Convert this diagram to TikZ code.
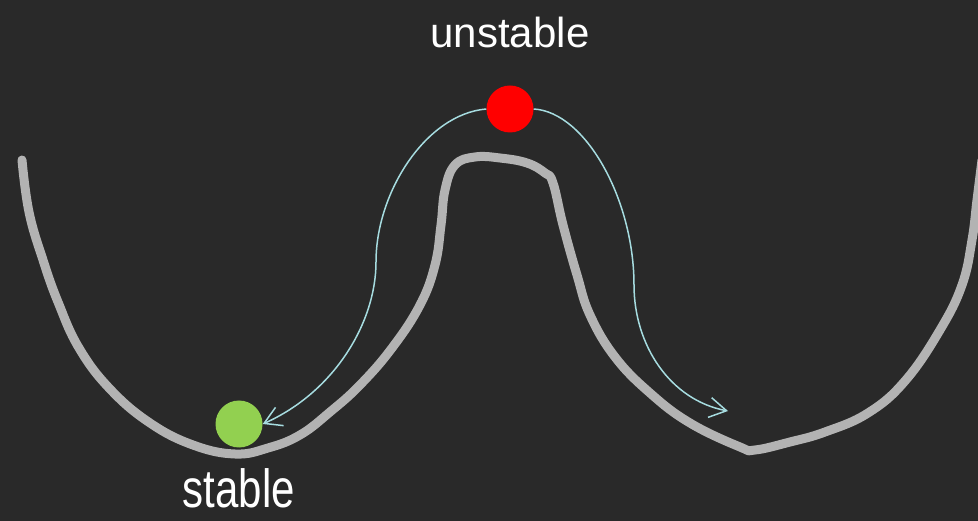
\documentclass[tikz,border=0pt]{standalone}
\usepackage{fontspec}
\setmainfont{Liberation Sans}
\usetikzlibrary{arrows.meta}
\definecolor{bgdark}{HTML}{292929}
\definecolor{trackgray}{HTML}{B3B3B3}
\definecolor{ballred}{HTML}{FF0000}
\definecolor{ballgreen}{HTML}{92D050}
\definecolor{flowcyan}{HTML}{A6DCE0}
\tikzset{% 
    ball/.style={inner sep=0pt,circle,minimum size=47pt},
    lbl/.style={inner sep=0pt,text=white,font=\fontsize{42}{50}\selectfont},
    track/.style={line width=9pt,trackgray,line cap=round,line join=round},
    flow/.style={line width=1.5pt,flowcyan,-{Straight Barb[length=17pt,width=20pt]}}
}

\begin{document}
\begin{tikzpicture}[x=1pt,y=-1pt]
            \useasboundingbox (0,0) rectangle (978,521);
            \fill[bgdark] (0,0) rectangle (978,521);

            % the landscape
            \draw[track] plot[smooth,tension=0.7] coordinates {
                (22,160) (29,212) (43,260) (58,302) (79,348) (110,389) (150,423)
                (193,445) (235,454) (268,448) (300,435) (330,412) (360,385)
                (392,348) (420,305) (435,265) (441,225) (445,190) (455,165)
                (475,157) (500,158) (527,163) (545,173) (553,183) (563,225)
                (577,275) (590,315) (615,357) (650,393) (690,423) (740,447)
                (755,450) (790,442) (825,432) (868,413) (905,381) (940,330)
                (962,285) (972,240) (977,200) (982,160)};

            \node[ball,fill=ballred,label={[lbl,label distance=37pt]above:{unstable}}] (top) at (510,109){};
            \node[ball,fill=ballgreen,label={[lbl,label distance=21pt]below:{\scalebox{1}[1.28]{stable}}}] (low) at (239,424){};
            \coordinate (lbend) at (376,262);
            \coordinate (rbend) at (634,285);
            \coordinate (rollend) at (728,411);

            \draw[flow] (top.west) .. controls +(-60,5) and +(0,-70) .. (lbend)
                .. controls +(0,60) and +(72,-32) .. (low.east);
            \draw[flow] (top.east) .. controls +(52,3) and +(0,-85) .. (rbend)
                .. controls +(0,60) and +(-58,-11) .. (rollend);
        \end{tikzpicture}
\end{document}
